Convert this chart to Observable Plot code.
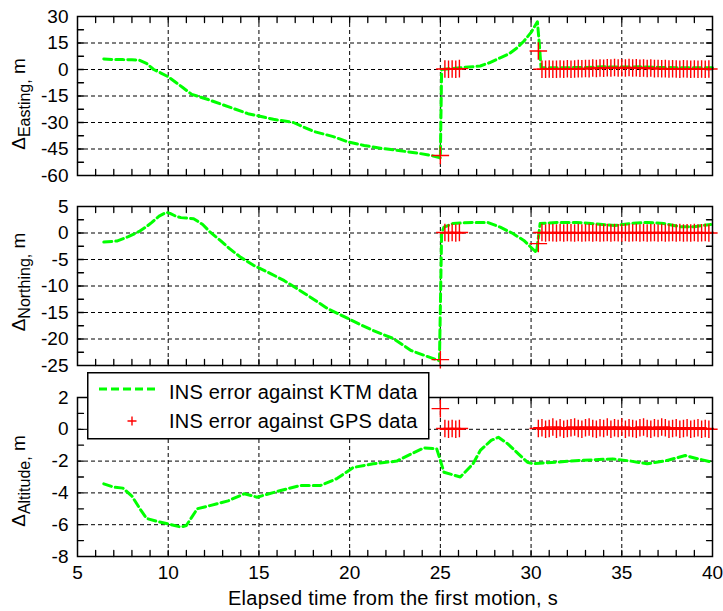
<!DOCTYPE html>
<html><head><meta charset="utf-8">
<script src="https://cdn.jsdelivr.net/npm/d3@7"></script>
<script src="https://cdn.jsdelivr.net/npm/@observablehq/plot@0.6"></script>
<style>
body{margin:0;background:#fff;}
#wrap{position:relative;width:723px;height:611px;font-family:"Liberation Sans",Arial,sans-serif;}
#wrap > svg.panel{position:absolute;left:0;overflow:visible;}
#wrap > svg#legend{position:absolute;left:87px;top:372px;}
</style></head><body><div id="wrap"></div>
<script>
// ---------- data ----------
const xTicks = [5, 10, 15, 20, 25, 30, 35, 40];
const xMinor = [6,7,8,9,10,11,12,13,14,15,16,17,18,19,20,21,22,23,24,25,26,27,28,29,30,31,32,33,34,35,36,37,38,39];

const eastTicks = [30, 15, 0, -15, -30, -45, -60];
const eastMinor = [22.5, 15, 7.5, 0, -7.5, -15, -22.5, -30, -37.5, -45, -52.5];
const northTicks = [5, 0, -5, -10, -15, -20, -25];
const northMinor = [2.5, 0, -2.5, -5, -7.5, -10, -12.5, -15, -17.5, -20, -22.5];
const altTicks = [2, 0, -2, -4, -6, -8];
const altMinor = [1, 0, -1, -2, -3, -4, -5, -6, -7];

const seriesNames = ["INS error against KTM data", "INS error against GPS data"];
const yLabels = ["Easting", "Northing", "Altitude"];
const xTitle = "Elapsed time from the first motion, s";

// INS error against KTM data (green dashed)
const eastT = [6.45,7.0,7.5,8.0,8.4,8.8,9.2,9.6,10.0,10.8,11.3,12.2,13.3,14.4,15.8,16.9,18.0,19.1,19.9,20.8,21.7,22.8,23.9,24.5,25.0,25.07,25.6,26.1,26.8,27.2,27.7,28.3,28.8,29.2,29.6,30.0,30.35,30.45,30.55,31.0,32.0,33.0,34.0,35.0,36.0,37.0,38.0,39.0,40.0];
const eastV = [6.0,5.6,5.6,5.5,5.3,3.5,0.0,-2.0,-4.1,-10.2,-14.1,-17.0,-21.0,-25.0,-28.2,-30.0,-35.0,-38.0,-41.0,-43.0,-44.6,-46.0,-47.6,-48.7,-50.0,0.0,0.5,1.0,1.6,2.0,3.8,6.6,9.0,12.0,16.0,21.0,27.0,15.0,1.0,1.0,1.0,1.2,1.5,1.4,1.5,1.2,1.0,1.0,1.0];

const northT = [6.45,7.2,7.8,8.4,8.8,9.1,9.5,9.9,10.1,10.4,10.7,11.4,11.9,12.3,12.9,13.4,14.0,14.7,15.5,16.4,17.7,18.8,19.9,20.6,21.3,22.4,23.4,24.2,24.95,25.07,25.2,25.7,26.8,27.6,28.3,29.0,29.6,30.3,30.5,31.5,32.5,33.3,34.6,35.5,36.4,37.3,38.2,39.0,39.9];
const northV = [-1.7,-1.5,-0.7,0.3,1.2,2.0,3.2,3.9,3.7,3.2,2.9,2.7,1.6,0.2,-1.5,-3.0,-4.6,-6.1,-7.4,-9.0,-11.8,-14.3,-16.1,-17.3,-18.4,-19.9,-22.2,-23.2,-24.1,0.0,1.1,1.8,2.0,2.0,1.1,-0.1,-1.4,-3.7,1.8,2.0,2.0,1.8,1.4,1.8,2.0,1.8,1.2,1.2,1.6];

const altT = [6.45,7.0,7.5,8.0,8.5,8.8,9.4,10.0,10.7,11.0,11.6,12.3,13.3,14.2,14.9,16.2,17.3,18.4,19.3,20.2,21.3,22.6,23.4,24.1,24.8,25.0,25.2,26.1,26.8,27.2,27.8,28.2,28.7,29.3,29.8,30.1,30.9,32.7,34.5,35.5,36.4,37.5,38.5,39.2,40.0];
const altV = [-3.43,-3.64,-3.7,-4.2,-5.1,-5.6,-5.8,-5.95,-6.15,-6.05,-5.0,-4.8,-4.5,-4.05,-4.27,-3.85,-3.53,-3.53,-3.1,-2.4,-2.17,-2.0,-1.54,-1.17,-1.23,-1.96,-2.7,-3.0,-2.17,-1.33,-0.7,-0.5,-0.9,-1.54,-2.07,-2.17,-2.1,-1.96,-1.86,-2.0,-2.17,-1.96,-1.65,-1.86,-2.07];

// INS error against GPS data (red plus)
const gpsT = [25.0,25.25,25.45,25.65,25.85,26.05,30.4,30.6,30.8,31.0,31.2,31.4,31.6,31.8,32.0,32.2,32.4,32.6,32.8,33.0,33.2,33.4,33.6,33.8,34.0,34.2,34.4,34.6,34.8,35.0,35.2,35.4,35.6,35.8,36.0,36.2,36.4,36.6,36.8,37.0,37.2,37.4,37.6,37.8,38.0,38.2,38.4,38.6,38.8,39.0,39.2,39.4,39.6,39.8];
const gpsEast = [-48.7,0.3,0.2,0.3,0.2,0.5,10.5,
  0.2,0.1,0.3,0.2,0.1,0.3,0.2,0.4,0.2,0.3,
  0.5,0.4,0.6,0.5,0.8,0.6,0.9,0.7,1.0,0.8,
  1.1,0.9,1.0,0.8,1.1,0.9,1.0,0.7,0.9,0.6,
  0.8,0.5,0.6,0.4,0.5,0.3,0.4,0.3,0.2,0.4,
  0.3,0.2,0.3,0.2,0.3,0.2,0.3];
const gpsNorth = [-23.9,0.1,0.0,0.1,0.0,0.1,-2.0,
  0.1,0,0.1,0.05,0,0.1,0,0.1,0.05,0,
  0.1,0,0.05,0.1,0,0.1,0,0.05,0.1,0,
  0.1,0.05,0,0.1,0,0.05,0.1,0,0.1,0,
  0.05,0.1,0,0.1,0,0.05,0.1,0,0.1,0,
  0.05,0,0.1,0,0.05,0.1,0];
const gpsAlt = [1.3,0.05,0,0.05,0,0.05,0.05,
  0.1,0,0.05,0.15,0,0.1,0,0.05,0.1,0.15,
  0.05,0,0.1,0.15,0.05,0,0.1,0.05,0.15,0,
  0.1,0.05,0.15,0,0.1,0.05,0,0.1,0.15,0.05,
  0,0.1,0.05,0.15,0.1,0,0.05,0.1,0,0.05,
  0.1,0,0.05,0.1,0,0.05,0];

// ---------- drawing ----------
const GREEN = "#00ff00", RED = "#ff0000";
const FONT = "'Liberation Sans', Arial, sans-serif";
const W = 723, ML = 77, MR = 11, PH = 159, TL = 6;
const PW = W - ML - MR;
const XD = [5, 40];
const wrap = document.getElementById("wrap");

function panel(o) {
  const ktm = o.kT.map((t, i) => ({t, v: o.kV[i]}));
  const gps = gpsT.map((t, i) => ({t, v: o.gV[i]}));
  const yd = [o.yTicks[o.yTicks.length - 1], o.yTicks[0]];
  const innerY = o.yTicks.filter(d => d > yd[0] && d < yd[1]);
  const innerX = xTicks.filter(d => d > XD[0] && d < XD[1]);
  // tick records: position on the axis, at each side of the frame
  const topTicks = xMinor.map(x => ({x, y: yd[1]}));
  const botTicks = xMinor.map(x => ({x, y: yd[0]}));
  const leftTicks = o.yMinor.map(y => ({x: XD[0], y}));
  const rightTicks = o.yMinor.map(y => ({x: XD[1], y}));
  const grid = {stroke: "#000", strokeOpacity: 1, strokeWidth: 1, strokeDasharray: "4,3"};
  // inward ticks drawn as fixed-pixel-length vector spikes
  const tk = {x: "x", y: "y", length: TL, stroke: "#000", strokeWidth: 1.3, anchor: "start", shape: "spike", r: 0};
  const marks = [
    Plot.gridX(innerX, grid),
    Plot.gridY(innerY, grid),
    Plot.vector(topTicks, {...tk, rotate: 180}),
    Plot.vector(botTicks, {...tk, rotate: 0}),
    Plot.vector(leftTicks, {...tk, rotate: 90}),
    Plot.vector(rightTicks, {...tk, rotate: -90}),
    Plot.axisY(o.yTicks, {anchor: "left", tickSize: 0, tickPadding: 9, tickFormat: d => String(d), label: null, fontSize: 19}),
    Plot.line(ktm, {x: "t", y: "v", stroke: GREEN, strokeWidth: 3, strokeDasharray: "8,4"}),
    Plot.dot(gps, {x: "t", y: "v", symbol: "plus", r: 5.7, stroke: RED, strokeWidth: 1.4}),
    Plot.frame({stroke: "#000", strokeWidth: 1.5})
  ];
  if (o.xAxis) {
    marks.push(Plot.axisX(xTicks, {anchor: "bottom", tickSize: 0, tickPadding: 9, tickFormat: d => String(d), label: null, fontSize: 19}));
    marks.push(Plot.text([xTitle], {text: d => d, frameAnchor: "bottom", dy: 48, fontSize: 20, dx: -2}));
  }
  const svg = Plot.plot({
    width: W, height: o.marginTop + PH + o.marginBottom,
    marginLeft: ML, marginRight: MR, marginTop: o.marginTop, marginBottom: o.marginBottom,
    x: o.xAxis ? {domain: XD} : {domain: XD, axis: null},
    y: {domain: yd},
    style: {fontFamily: FONT, fontSize: "19px", color: "#000", background: "transparent", overflow: "visible"},
    marks
  });
  svg.classList.add("panel");
  svg.style.top = o.top + "px";
  if (o.xAxis) d3.select(svg).selectAll("text").filter(function () { return this.textContent === xTitle; }).attr("letter-spacing", 0.3);
  // rotated y label with subscript
  const t = d3.select(svg).append("text")
    .attr("transform", `translate(25,${o.labelY}) rotate(-90)`)
    .attr("text-anchor", "middle")
    .attr("font-family", FONT).attr("font-size", 19).attr("fill", "#000");
  t.append("tspan").text("\u0394");
  t.append("tspan").attr("dy", 5).attr("font-size", 16).text(o.sub + ",");
  t.append("tspan").attr("dy", -5).text(" m");
  wrap.appendChild(svg);
}

panel({kT: eastT, kV: eastV, gV: gpsEast, yTicks: eastTicks, yMinor: eastMinor, sub: yLabels[0],
  top: 0, marginTop: 16, marginBottom: 15, labelY: 104});
panel({kT: northT, kV: northV, gV: gpsNorth, yTicks: northTicks, yMinor: northMinor, sub: yLabels[1],
  top: 190, marginTop: 16, marginBottom: 5, labelY: 92});
panel({kT: altT, kV: altV, gV: gpsAlt, yTicks: altTicks, yMinor: altMinor, sub: yLabels[2],
  top: 370, marginTop: 27, marginBottom: 55, labelY: 111, xAxis: true});

// legend
const leg = d3.select(wrap).append("svg").attr("id", "legend").attr("width", 343).attr("height", 68);
leg.append("rect").attr("x", 0.75).attr("y", 0.75).attr("width", 341).attr("height", 66)
  .attr("fill", "#fff").attr("stroke", "#000").attr("stroke-width", 1.5);
leg.append("line").attr("x1", 12).attr("x2", 71).attr("y1", 17).attr("y2", 17)
  .attr("stroke", GREEN).attr("stroke-width", 3).attr("stroke-dasharray", "8,4");
leg.append("path").attr("d", "M40.5,49H49.5M45,44.5V53.5").attr("stroke", RED).attr("stroke-width", 1.4).attr("fill", "none");
leg.selectAll("text.l").data(seriesNames).join("text")
  .attr("x", 82).attr("y", (d, i) => 27 + i * 29)
  .attr("font-family", FONT).attr("font-size", 20).attr("letter-spacing", 0.2).attr("fill", "#000")
  .text(d => d);
</script></body></html>
